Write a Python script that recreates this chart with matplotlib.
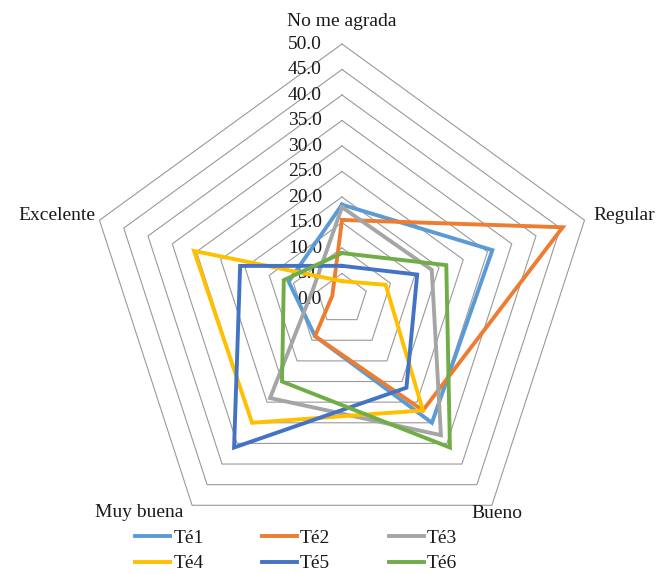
import matplotlib.pyplot as plt
import numpy as np

# Data (percent per tea, axes clockwise from the top)
categories = ["No me agrada", "Regular", "Bueno", "Muy buena", "Excelente"]
series_names = ["Té1", "Té2", "Té3", "Té4", "Té5", "Té6"]
te1 = [18.5, 31.0, 30.0, 9.0, 11.0]
te2 = [15.5, 45.5, 27.0, 9.0, 2.0]
te3 = [18.0, 18.5, 33.0, 24.0, 6.0]
te4 = [3.5, 9.0, 27.0, 30.0, 30.5]
te5 = [6.5, 15.5, 21.5, 36.0, 21.0]
te6 = [9.0, 21.5, 36.0, 20.0, 12.0]
ring_values = [5, 10, 15, 20, 25, 30, 35, 40, 45, 50]
tick_values = [0, 5, 10, 15, 20, 25, 30, 35, 40, 45, 50]

series = [te1, te2, te3, te4, te5, te6]
colors = ["#5B9BD5", "#ED7D31", "#A5A5A5", "#FFC000", "#4472C4", "#70AD47"]

plt.rcParams['font.family'] = ['Liberation Serif', 'DejaVu Serif']

W, H = 658, 574
cx, cy = 342, 299      # centre in pixels
scale = 5.1            # pixels per unit
fig = plt.figure(figsize=(W / 100, H / 100), dpi=100)
ax = fig.add_axes([0, 0, 1, 1])
ax.set_xlim(-cx / scale, (W - cx) / scale)
ax.set_ylim(-(H - cy) / scale, cy / scale)
ax.axis('off')

angles = np.deg2rad(90 - 72 * np.arange(len(categories)))


def to_xy(vals):
    v = np.asarray(vals, float)
    v = np.append(v, v[0])
    a = np.append(angles, angles[0])
    return v * np.cos(a), v * np.sin(a)


# pentagon grid
for r in ring_values:
    gx, gy = to_xy([r] * len(categories))
    ax.plot(gx, gy, color='#9a9a9a', lw=0.8, zorder=1)

# value labels along the top axis
for t in tick_values:
    ax.annotate(f"{t:.1f}", (0, t), xytext=(-20 * 0.72, 0), textcoords='offset points',
                ha='right', va='center', fontsize=14, color='#1a1a1a', zorder=2)

# category labels
px = 0.72
label_offsets = [(0, 23), (8.5, 5), (5, -8), (-9, -7), (-4.5, 5)]
label_align = [('center', 'center'), ('left', 'center'), ('center', 'center'),
               ('right', 'center'), ('right', 'center')]
for i, name in enumerate(categories):
    x0 = 50 * np.cos(angles[i])
    y0 = 50 * np.sin(angles[i])
    ha, va = label_align[i]
    ox, oy = label_offsets[i]
    ax.annotate(name, (x0, y0), xytext=(ox * px, oy * px), textcoords='offset points',
                ha=ha, va=va, fontsize=14, color='#1a1a1a')

# series
handles = []
for vals, col, name in zip(series, colors, series_names):
    sx, sy = to_xy(vals)
    ln, = ax.plot(sx, sy, color=col, lw=2.8, label=name, zorder=3,
                  solid_joinstyle='miter')
    handles.append(ln)

order = [0, 3, 1, 4, 2, 5]
leg = fig.legend([handles[i] for i in order], [series_names[i] for i in order],
                 loc='center', bbox_to_anchor=(296 / W, 1 - 551 / H), ncol=3,
                 frameon=False, fontsize=14, handlelength=1.8, handletextpad=0.15,
                 columnspacing=3.0, labelspacing=0.4, borderpad=0.2)
for t in leg.get_texts():
    t.set_color('#1a1a1a')

fig.savefig('out.png', dpi=100)
